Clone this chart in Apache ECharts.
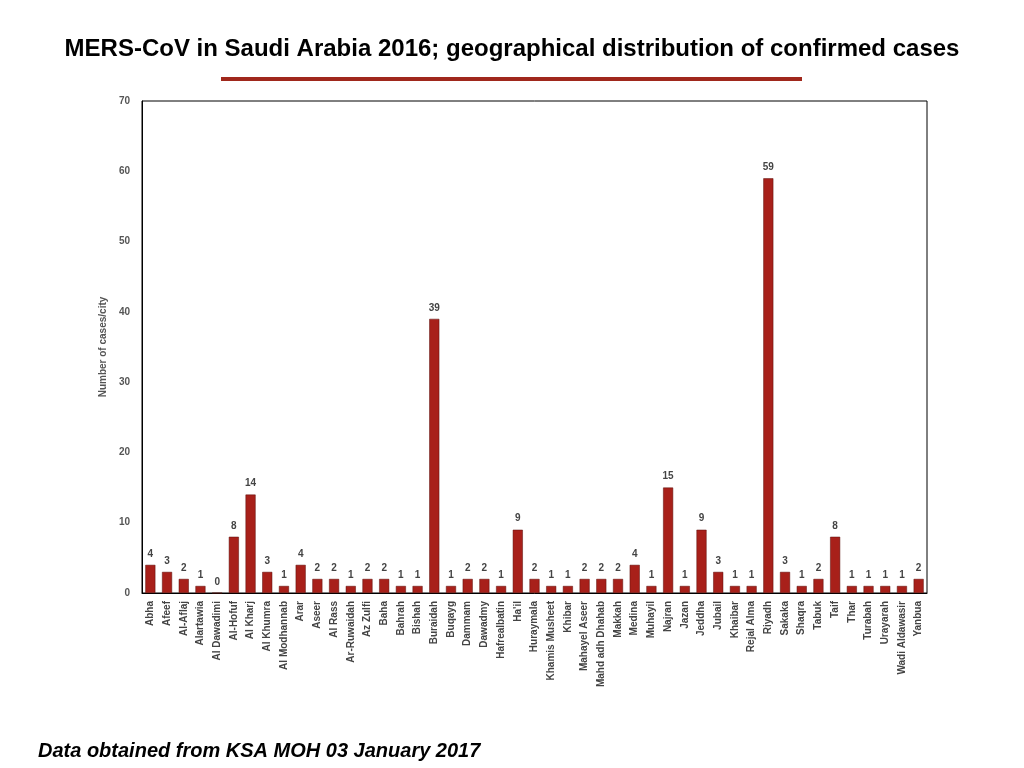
<!DOCTYPE html>
<html>
<head>
  <meta charset="UTF-8">
  <title>MERS-CoV in Saudi Arabia 2016</title>
  <script src="https://cdn.jsdelivr.net/npm/echarts@6/dist/echarts.min.js"></script>
  <style>
    html, body { margin:0; padding:0; background:#fff; }
    #chart { width:1024px; height:768px; }
  </style>
</head>
<body>
<div id="chart"></div>
<script type="text/javascript">
  var cities = ['Abha','Afeef','Al-Aflaj','Alartawia','Al Dawadimi','Al-Hofuf','Al Kharj','Al Khumra','Al Modhannab','Arar',
    'Aseer','Al Rass','Ar-Ruwaidah','Az Zulfi','Baha','Bahrah','Bishah','Buraidah','Buqayg','Dammam',
    'Dawadmy','Hafrealbatin',"Ha'il",'Huraymala','Khamis Musheet','Khibar','Mahayel Aseer','Mahd adh Dhahab','Makkah','Medina',
    'Muhayil','Najran','Jazan','Jeddha','Jubail','Khaibar','Rejal Alma','Riyadh','Sakaka','Shaqra',
    'Tabuk','Taif','Thar','Turabah','Urayarah','Wadi Aldawasir','Yanbua'];
  var cases = [4,3,2,1,0,8,14,3,1,4,
    2,2,1,2,2,1,1,39,1,2,
    2,1,9,2,1,1,2,2,2,4,
    1,15,1,9,3,1,1,59,3,1,
    2,8,1,1,1,1,2];

  var chart = echarts.init(document.getElementById('chart'));
  chart.setOption({
    animation: false,
    textStyle: { fontFamily: 'Liberation Sans, Arial, sans-serif' },
    title: {
      text: 'MERS-CoV in Saudi Arabia 2016; geographical distribution of confirmed cases',
      left: 'center', top: 32,
      textStyle: { fontSize: 24, fontWeight: 'bold', color: '#000' }
    },
    graphic: [
      { type:'rect', shape:{ x:221, y:77, width:581, height:4 }, style:{ fill:'#a0281c' } },
      { type:'rect', shape:{ x:142, y:101, width:785, height:492 }, style:{ fill:'none', stroke:'#000', lineWidth:1 } },
      { type:'text', left:38, top:741, style:{ text:'Data obtained from KSA MOH 03 January 2017', font:'italic bold 20px Liberation Sans, Arial, sans-serif', fill:'#000' } }
    ],
    grid: { left:142, right:97, top:101, bottom:175 },
    xAxis: {
      type: 'category',
      data: cities,
      axisLine: { lineStyle: { color:'#000' } },
      axisTick: { show:false },
      axisLabel: { interval:0, rotate:90, fontSize:10, fontWeight:'bold', color:'#444' }
    },
    yAxis: {
      type: 'value', min:0, max:70, interval:10,
      name: 'Number of cases/city', nameLocation:'middle', nameGap:33,
      nameTextStyle: { fontSize:10, fontWeight:'bold', color:'#555' },
      axisLine: { show:true, lineStyle: { color:'#000' } },
      axisTick: { show:false },
      splitLine: { show:false },
      axisLabel: { fontSize:10, fontWeight:'bold', color:'#555', margin:12 }
    },
    series: [{
      type: 'bar',
      data: cases,
      barWidth: '60%',
      itemStyle: { color:'#a8201a', borderColor:'#5a0e0a', borderWidth:0.5 },
      label: { show:true, position:'top', fontSize:10, fontWeight:'bold', color:'#444', distance:6 }
    }]
  });
</script>
</body>
</html>
